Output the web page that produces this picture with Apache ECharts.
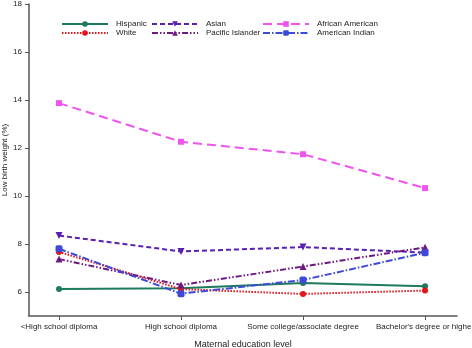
<!DOCTYPE html>
<html>
<head>
<meta charset="utf-8">
<script src="https://cdn.jsdelivr.net/npm/echarts@6/dist/echarts.min.js"></script>
<style>
  html, body { margin: 0; padding: 0; background: #fff; }
  #chart { width: 472px; height: 348px; }
</style>
</head>
<body>
<div id="chart"></div>
<script>
// categories on x (placed at 0..3)
const categories = [
  "<High school diploma",
  "High school diploma",
  "Some college/associate degree",
  "Bachelor's degree or higher",
];
const yTicks = [6, 8, 10, 12, 14, 16, 18];

// low birth weight (%) per group
const hispanic = [6.13, 6.16, 6.38, 6.24];
const white = [7.67, 6.12, 5.92, 6.06];
const asian = [8.35, 7.69, 7.87, 7.64];
const pacificIslander = [7.37, 6.29, 7.06, 7.86];
const africanAmerican = [13.87, 12.26, 11.74, 10.33];
const americanIndian = [7.8, 5.93, 6.5, 7.64];

const font = "Liberation Sans, Arial, sans-serif";
const axisColor = "#555";

function toPoints(arr) {
  return arr.map((v, i) => [i, v]);
}

function mkSeries(name, data, color, dash, symbol, rotate, size) {
  return {
    name: name,
    type: "line",
    data: toPoints(data),
    symbol: symbol,
    symbolSize: size,
    symbolRotate: rotate,
    color: color,
    lineStyle: { color: color, width: 2, type: dash },
    itemStyle: { color: color },
    emphasis: { disabled: true },
    animation: false,
  };
}

const series = [
  mkSeries("Hispanic", hispanic, "#1d7a5c", "solid", "circle", 0, 6),
  mkSeries("White", white, "#e3141c", [1.5, 1.5], "circle", 0, 6),
  mkSeries("Asian", asian, "#5a1fae", [5, 3], "triangle", 180, 7),
  mkSeries("Pacific Islander", pacificIslander, "#6c1a80", [6, 2, 1.5, 2, 1.5, 2], "triangle", 0, 7),
  mkSeries("African American", africanAmerican, "#ee55ee", [9, 5], "rect", 0, 6),
  mkSeries("American Indian", americanIndian, "#3d4ad8", [7, 2, 1.5, 2], "roundRect", 0, 7),
];

function legendCol(left, names) {
  return {
    orient: "vertical",
    left: left,
    top: 20,
    itemWidth: 46,
    itemHeight: 7,
    itemGap: 1,
    padding: 0,
    selectedMode: false,
    textStyle: { fontFamily: font, fontSize: 8, color: "#222", padding: [0, 0, 0, 3] },
    data: names,
  };
}

var myChart = echarts.init(document.getElementById("chart"));
var option = {
  backgroundColor: "#fff",
  animation: false,
  grid: { left: 29, right: 15, top: 4, bottom: 32, containLabel: false, outerBoundsMode: "none" },
  legend: [
    legendCol(61, ["Hispanic", "White"]),
    legendCol(151, ["Asian", "Pacific Islander"]),
    legendCol(262, ["African American", "American Indian"]),
  ],
  xAxis: {
    type: "value",
    min: -0.246,
    max: 3.262,
    name: "Maternal education level",
    nameLocation: "middle",
    nameGap: 24,
    nameMoveOverlap: false,
    nameTextStyle: { fontFamily: font, fontSize: 9, color: "#222" },
    axisLine: { show: true, onZero: false, lineStyle: { color: axisColor, width: 1.5 } },
    axisTick: { show: true, length: 4, customValues: [0, 1, 2, 3], lineStyle: { color: axisColor, width: 1 } },
    axisLabel: {
      customValues: [0, 1, 2, 3],
      margin: 7,
      fontFamily: font,
      fontSize: 8,
      color: "#222",
      formatter: function (v) { return categories[Math.round(v)]; },
    },
    splitLine: { show: false },
  },
  yAxis: {
    type: "value",
    min: 5,
    max: 18,
    name: "Low birth weight (%)",
    nameLocation: "middle",
    nameGap: 20,
    nameMoveOverlap: false,
    nameTextStyle: { fontFamily: font, fontSize: 8, color: "#222" },
    axisLine: { show: true, onZero: false, lineStyle: { color: axisColor, width: 1.5 } },
    axisTick: { show: true, length: 4, customValues: yTicks, lineStyle: { color: axisColor, width: 1 } },
    axisLabel: { customValues: yTicks, margin: 7, fontFamily: font, fontSize: 8, color: "#222" },
    splitLine: { show: false },
  },
  series: series,
};
option && myChart.setOption(option, true);
</script>
</body>
</html>
